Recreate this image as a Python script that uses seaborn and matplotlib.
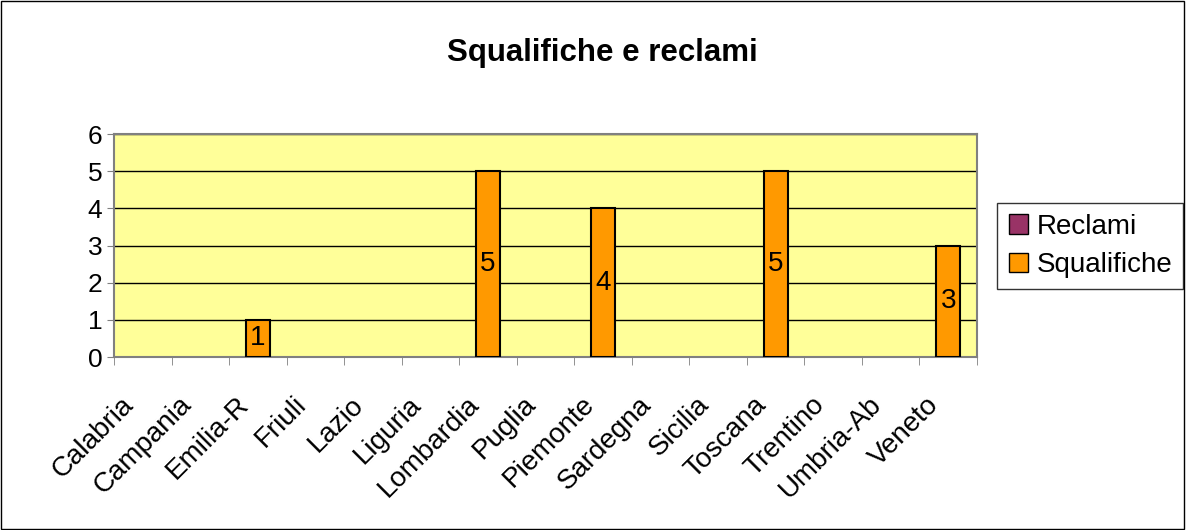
import pandas as pd
import seaborn as sns
import matplotlib.pyplot as plt
import matplotlib.transforms as mtransforms
from matplotlib.patches import Patch, Rectangle

regioni = ['Calabria', 'Campania', 'Emilia-R', 'Friuli', 'Lazio', 'Liguria', 'Lombardia',
           'Puglia', 'Piemonte', 'Sardegna', 'Sicilia', 'Toscana', 'Trentino', 'Umbria-Ab', 'Veneto']
reclami = [0, 0, 0, 0, 0, 0, 0, 0, 0, 0, 0, 0, 0, 0, 0]
squalifiche = [0, 0, 1, 0, 0, 0, 5, 0, 4, 0, 0, 5, 0, 0, 3]

df = pd.DataFrame({'Regione': regioni, 'Reclami': reclami, 'Squalifiche': squalifiche})

sns.set_style('white')
plt.rcParams['font.family'] = ['Liberation Sans', 'DejaVu Sans']
plt.rcParams['text.color'] = 'black'

fig = plt.figure(figsize=(11.86, 5.3), dpi=100)
ax = fig.add_axes([0.0961, 0.3264, 0.7277, 0.4206])
ax.set_facecolor('#FFFF99')

sns.barplot(data=df, x='Regione', y='Squalifiche', color='#FF9900', width=0.42,
            edgecolor='black', linewidth=1.5, saturation=1, ax=ax, zorder=3)

# hide empty bars, label the others in the middle
cont = ax.containers[0]
for p, v in zip(cont, squalifiche):
    if v == 0:
        p.set_visible(False)
labels = [str(v) if v else '' for v in squalifiche]
ax.bar_label(cont, labels=labels, label_type='center', fontsize=20, color='black')

ax.set_ylim(0, 6)
ax.set_xlim(-0.5, len(regioni) - 0.5)
ax.set_yticks(range(0, 7))
ax.yaxis.grid(True, color='black', linewidth=1, zorder=1)
ax.set_axisbelow(True)
ax.tick_params(axis='y', labelsize=19, left=True, length=5, color='gray', labelcolor='black')
ax.set_xticks(range(len(regioni)))
ax.set_xticklabels(regioni, rotation=45, ha='right', va='center', rotation_mode='anchor',
                   fontsize=20)
ax.tick_params(axis='x', which='major', bottom=False, pad=28, labelcolor='black')
shift = mtransforms.ScaledTranslation(-13 / 100, 0, fig.dpi_scale_trans)
for lab in ax.get_xticklabels():
    lab.set_transform(lab.get_transform() + shift)
ax.set_xticks([i + 0.5 for i in range(-1, len(regioni))], minor=True)
ax.tick_params(axis='x', which='minor', bottom=True, length=6, color='gray')
ax.set_xlabel('')
ax.set_ylabel('')
for s in ax.spines.values():
    s.set_color('gray')
    s.set_linewidth(1.5)
    s.set_visible(True)

fig.text(0.508, 0.9, 'Squalifiche e reclami', ha='center', va='center',
         fontsize=22.5, fontweight='bold')

handles = [Patch(facecolor='#993366', edgecolor='black', label='Reclami'),
           Patch(facecolor='#FF9900', edgecolor='black', label='Squalifiche')]
leg = fig.legend(handles=handles, loc='center left', bbox_to_anchor=(0.841, 0.536),
                 fontsize=20, frameon=True, fancybox=False, handlelength=0.7,
                 handleheight=0.7, handletextpad=0.3, borderpad=0.4, labelspacing=0.45,
                 borderaxespad=0)
leg.get_frame().set_edgecolor('black')
leg.get_frame().set_linewidth(1)

fig.patches.append(Rectangle((0.001, 0.002), 0.997, 0.996, transform=fig.transFigure,
                             fill=False, edgecolor='black', linewidth=1))

fig.savefig('out.png', dpi=100)
